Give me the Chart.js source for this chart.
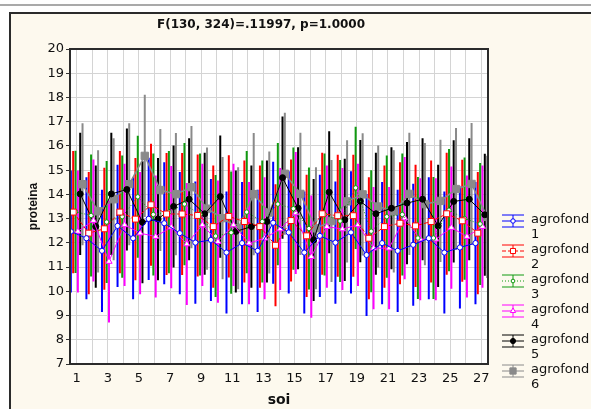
<!DOCTYPE html>
<html>
<head>
<meta charset="utf-8">
<script src="https://cdn.jsdelivr.net/npm/chart.js@4.4.1/dist/chart.umd.min.js"></script>
<style>
  html, body { margin: 0; padding: 0; background: #fff; }
</style>
</head>
<body>
<canvas id="chart" width="591" height="409"></canvas>
<script>
// categories (soi) and tick labels
const soi = [1, 2, 3, 4, 5, 6, 7, 8, 9, 10, 11, 12, 13, 14, 15, 16, 17, 18, 19, 20, 21, 22, 23, 24, 25, 26, 27];
const xTickLabels = [1, 3, 5, 7, 9, 11, 13, 15, 17, 19, 21, 23, 25, 27];
const yTickLabels = [7, 8, 9, 10, 11, 12, 13, 14, 15, 16, 17, 18, 19, 20];

// means of proteina per soi, one array per agrofond
const agrofond1 = [12.47, 12.19, 11.67, 12.70, 12.19, 12.99, 12.81, 12.40, 12.01, 12.12, 11.60, 11.99, 11.67, 12.83,
  12.43, 11.60, 12.29, 12.01, 12.43, 11.50, 11.99, 11.67, 11.92, 12.19, 11.60, 11.81, 11.99];
const agrofond2 = [13.27, 12.40, 12.58, 13.27, 12.98, 13.57, 13.19, 13.19, 13.13, 12.67, 13.09, 12.88, 12.67, 11.90,
  12.92, 12.29, 13.20, 13.12, 13.12, 12.19, 12.67, 12.81, 12.70, 12.88, 13.20, 12.91, 12.40];
const agrofond3 = [13.28, 13.13, 12.86, 13.08, 13.90, 13.17, 13.27, 13.60, 13.17, 12.28, 12.42, 13.27, 12.88, 13.60,
  13.41, 12.59, 13.17, 12.90, 14.27, 12.48, 13.08, 13.17, 12.20, 12.20, 13.35, 13.00, 12.78];
const agrofond4 = [12.47, 12.92, 11.23, 12.74, 12.40, 12.26, 12.65, 11.95, 12.74, 12.05, 12.74, 11.99, 12.19, 12.57,
  13.23, 11.43, 12.67, 12.57, 12.74, 11.78, 11.78, 13.02, 12.15, 12.15, 12.63, 12.26, 12.67];
const agrofond5 = [14.02, 12.67, 14.02, 14.20, 12.85, 12.98, 13.50, 13.80, 13.20, 13.91, 12.47, 12.67, 12.88, 14.69,
  13.43, 12.12, 14.09, 12.95, 13.72, 13.20, 13.43, 13.64, 13.80, 12.70, 13.71, 13.80, 13.16];
const agrofond6 = [14.42, 13.30, 13.80, 14.42, 15.59, 14.18, 14.01, 14.30, 13.41, 13.02, 12.60, 14.01, 13.25, 14.85,
  14.02, 12.60, 12.90, 13.71, 14.00, 13.50, 13.30, 14.02, 13.60, 13.73, 14.22, 14.43, 13.07];

// half width of the vertical bars (confidence interval), same for every mean
const ciHalfWidth = 2.52;

const seriesLabels = ['1', '2', '3', '4', '5', '6'];
const means = [agrofond1, agrofond2, agrofond3, agrofond4, agrofond5, agrofond6];

// look of each series
const styles = [
  { color: '#0000ff', dash: [], point: 'circle', radius: 2.6, fill: '#ffffff' },
  { color: '#ff0000', dash: [4, 2], point: 'rect', radius: 4.2, fill: '#ffffff' },
  { color: '#109a10', dash: [1, 2], point: 'circle', radius: 2.2, fill: '#ffffff' },
  { color: '#ff00ff', dash: [], point: 'triangle', radius: 3.6, fill: '#ffffff' },
  { color: '#000000', dash: [], point: 'circle', radius: 3, fill: '#000000' },
  { color: '#8a8a8a', dash: [], point: 'rect', radius: 5.2, fill: '#8a8a8a' },
];
// side by side shift of each agrofond inside one soi
const offsets = [-0.375, -0.225, -0.075, 0.075, 0.225, 0.375];

const FONT = '"DejaVu Sans", sans-serif';

const errorBarSets = means.map((m, s) => ({
  type: 'line',
  data: soi.flatMap((c, i) => [
    { x: c + offsets[s], y: m[i] - ciHalfWidth },
    { x: c + offsets[s], y: m[i] + ciHalfWidth },
    { x: c + offsets[s], y: null },
  ]),
  borderColor: styles[s].color,
  borderWidth: 2,
  borderCapStyle: 'butt',
  pointRadius: 0,
  spanGaps: false,
  fill: false,
  order: 2,
}));

const meanSets = means.map((m, s) => ({
  type: 'line',
  data: soi.map((c, i) => ({ x: c + offsets[s], y: m[i] })),
  borderColor: styles[s].color,
  borderWidth: s === 5 ? 1.5 : 1,
  borderDash: styles[s].dash,
  pointStyle: styles[s].point,
  pointRadius: styles[s].radius,
  pointBackgroundColor: styles[s].fill,
  pointBorderColor: styles[s].color,
  pointBorderWidth: 1,
  tension: 0,
  fill: false,
  order: 1,
}));

const framePlugin = {
  id: 'frame',
  beforeDraw(chart) {
    const { ctx, chartArea: a } = chart;
    ctx.save();
    ctx.fillStyle = '#ffffff';
    ctx.fillRect(0, 0, chart.width, chart.height);
    ctx.fillStyle = '#a9a9a9';
    ctx.fillRect(0, 4, chart.width, 2);
    ctx.fillStyle = '#fdf9ee';
    ctx.fillRect(10, 13, chart.width - 10, chart.height - 13);
    ctx.fillStyle = '#2b2b2b';
    ctx.fillRect(9, 12, chart.width - 9, 2);
    ctx.fillRect(9, 12, 2, chart.height - 12);
    ctx.fillStyle = '#ffffff';
    ctx.fillRect(a.left, a.top, a.right - a.left, a.bottom - a.top);
    ctx.restore();
  },
  afterDraw(chart) {
    const { ctx, chartArea: a } = chart;
    ctx.save();
    // plot border
    ctx.strokeStyle = '#2b2b2b';
    ctx.lineWidth = 2;
    ctx.strokeRect(a.left, a.top, a.right - a.left, a.bottom - a.top);

    // title
    ctx.fillStyle = '#111';
    ctx.font = 'bold 12px ' + FONT;
    ctx.textAlign = 'center';
    ctx.textBaseline = 'middle';
    ctx.fillText('F(130, 324)=.11997, p=1.0000', 261, 25);

    // legend
    ctx.textAlign = 'left';
    ctx.font = '13px ' + FONT;
    styles.forEach((st, s) => {
      const y = 221 + s * 30;
      const x0 = 502, x1 = 524, xm = 513;
      ctx.strokeStyle = st.color;
      ctx.lineWidth = 1;
      ctx.setLineDash([]);
      ctx.beginPath();
      ctx.moveTo(x0, y - 6); ctx.lineTo(x1, y - 6);
      ctx.moveTo(x0, y + 6); ctx.lineTo(x1, y + 6);
      ctx.moveTo(xm, y - 6); ctx.lineTo(xm, y + 6);
      ctx.stroke();
      ctx.setLineDash(st.dash);
      ctx.beginPath();
      ctx.moveTo(x0, y); ctx.lineTo(x1, y);
      ctx.stroke();
      ctx.setLineDash([]);
      ctx.fillStyle = st.fill;
      Chart.helpers.drawPoint(ctx, { pointStyle: st.point, rotation: 0, radius: st.radius * 0.85, borderWidth: 1 }, xm, y);
      ctx.fillStyle = '#111';
      ctx.fillText('agrofond', 531, y - 1);
      ctx.fillText(seriesLabels[s], 531, y + 14);
    });
    ctx.restore();
  },
};

new Chart(document.getElementById('chart'), {
  type: 'line',
  data: { datasets: [...meanSets, ...errorBarSets] },
  options: {
    responsive: false,
    animation: false,
    events: [],
    layout: { padding: { left: 26, right: 103, top: 49, bottom: 0 } },
    plugins: { legend: { display: false }, tooltip: { enabled: false } },
    scales: {
      x: {
        type: 'linear',
        min: 0.57,
        max: 27.43,
        afterBuildTicks: (axis) => { axis.ticks = soi.map((v) => ({ value: v })); },
        afterFit: (scale) => { scale.height = 45; },
        ticks: {
          autoSkip: false,
          maxRotation: 0,
          padding: 7,
          color: '#111',
          font: { family: FONT, size: 13 },
          callback: (v) => (xTickLabels.includes(v) ? String(v) : ''),
        },
        grid: { color: '#d4d4d4', drawTicks: false },
        border: { display: false },
        title: {
          display: true,
          text: 'soi',
          color: '#111',
          font: { family: FONT, size: 14, weight: 'bold' },
          padding: { top: 0, bottom: 0 },
        },
      },
      y: {
        type: 'linear',
        min: 7,
        max: 20,
        afterBuildTicks: (axis) => { axis.ticks = yTickLabels.map((v) => ({ value: v })); },
        afterFit: (scale) => { scale.width = 44; },
        ticks: {
          padding: 2,
          color: '#111',
          font: { family: FONT, size: 13 },
        },
        grid: { color: '#d4d4d4', tickLength: 4, tickColor: '#333' },
        border: { display: false },
        title: {
          display: true,
          text: 'proteina',
          color: '#111',
          font: { family: '"Liberation Sans", Arial, sans-serif', size: 12, weight: 'bold' },
          padding: { top: 0, bottom: 0 },
        },
      },
    },
  },
  plugins: [framePlugin],
});
</script>
</body>
</html>
